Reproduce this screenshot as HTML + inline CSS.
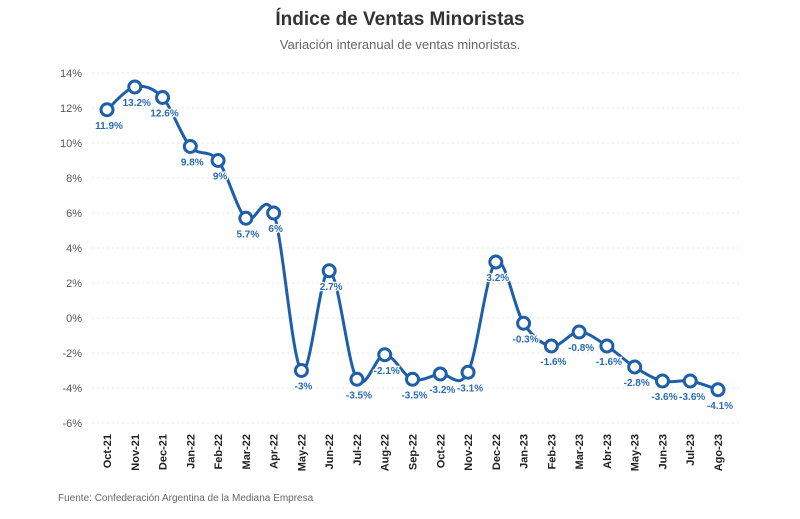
<!DOCTYPE html>
<html><head><meta charset="utf-8"><style>
body{margin:0;background:#fff;font-family:"Liberation Sans",sans-serif;}
svg{display:block}
</style></head><body>
<svg width="800" height="519">
<text x="400" y="25" text-anchor="middle" font-size="19" font-weight="bold" fill="#333">Índice de Ventas Minoristas</text>
<text x="400" y="49" text-anchor="middle" font-size="13" fill="#666">Variación interanual de ventas minoristas.</text>
<g id="grid"></g><g id="xl"></g>
<path id="line" fill="none" stroke="#1d5fa8" stroke-width="3"/>
<g id="pts"></g>
<text x="58" y="501" font-size="10" fill="#666">Fuente: Confederación Argentina de la Mediana Empresa</text>
</svg>
<script>
const categories=["Oct-21","Nov-21","Dec-21","Jan-22","Feb-22","Mar-22","Apr-22","May-22","Jun-22","Jul-22","Aug-22","Sep-22","Oct-22","Nov-22","Dec-22","Jan-23","Feb-23","Mar-23","Abr-23","May-23","Jun-23","Jul-23","Ago-23"];
const values=[11.9,13.2,12.6,9.8,9,5.7,6,-3,2.7,-3.5,-2.1,-3.5,-3.2,-3.1,3.2,-0.3,-1.6,-0.8,-1.6,-2.8,-3.6,-3.6,-4.1];
const labels=["11.9%","13.2%","12.6%","9.8%","9%","5.7%","6%","-3%","2.7%","-3.5%","-2.1%","-3.5%","-3.2%","-3.1%","3.2%","-0.3%","-1.6%","-0.8%","-1.6%","-2.8%","-3.6%","-3.6%","-4.1%"];
const yTicks=[14,12,10,8,6,4,2,0,-2,-4,-6];
const NS="http://www.w3.org/2000/svg";
const x=i=>107+i*(718-107)/(categories.length-1);
const y=v=>318-v*17.5;
function mk(t,a,p,txt){const e=document.createElementNS(NS,t);for(const k in a)e.setAttribute(k,a[k]);if(txt!=null)e.textContent=txt;p.appendChild(e);return e;}
const grid=document.getElementById('grid');
yTicks.forEach(v=>{
 const l=mk('line',{x1:92,x2:740,y1:y(v),y2:y(v),stroke:'#e4e4e4','stroke-dasharray':'2,3'},grid);
 
 
 const t=mk('text',{x:82,y:y(v)+4,'text-anchor':'end','font-size':11,fill:'#555'},grid,v+'%');
 
 
});
const xl=document.getElementById('xl');
categories.forEach((c,i)=>{
 const t=mk('text',{transform:`translate(${x(i)+4},434) rotate(-90)`,'text-anchor':'end','font-size':11,'font-weight':'bold',fill:'#222'},xl,c);
 
 
});
const P=values.map((v,i)=>[x(i),y(v)]);
let d=`M${P[0][0]},${P[0][1]}`;
for(let i=0;i<P.length-1;i++){
 const p0=P[i-1]||P[i],p1=P[i],p2=P[i+1],p3=P[i+2]||P[i+1];
 const c1=[p1[0]+(p2[0]-p0[0])/6,p1[1]+(p2[1]-p0[1])/6];
 const c2=[p2[0]-(p3[0]-p1[0])/6,p2[1]-(p3[1]-p1[1])/6];
 d+=` C${c1[0]},${c1[1]} ${c2[0]},${c2[1]} ${p2[0]},${p2[1]}`;
}
document.getElementById('line').setAttribute('d',d);
const pts=document.getElementById('pts');
P.forEach((p,i)=>{
 const c=mk('circle',{cx:p[0],cy:p[1],r:6,fill:'#fff',stroke:'#1d5fa8','stroke-width':3},pts);
 
 
 const t=mk('text',{x:p[0]+2,y:p[1]+19,'text-anchor':'middle','font-size':10,'font-weight':'bold',fill:'#2a6bb5',stroke:'#fff','stroke-width':2.5,'paint-order':'stroke'},pts,labels[i]);
 
 
});
</script>
</body></html>
